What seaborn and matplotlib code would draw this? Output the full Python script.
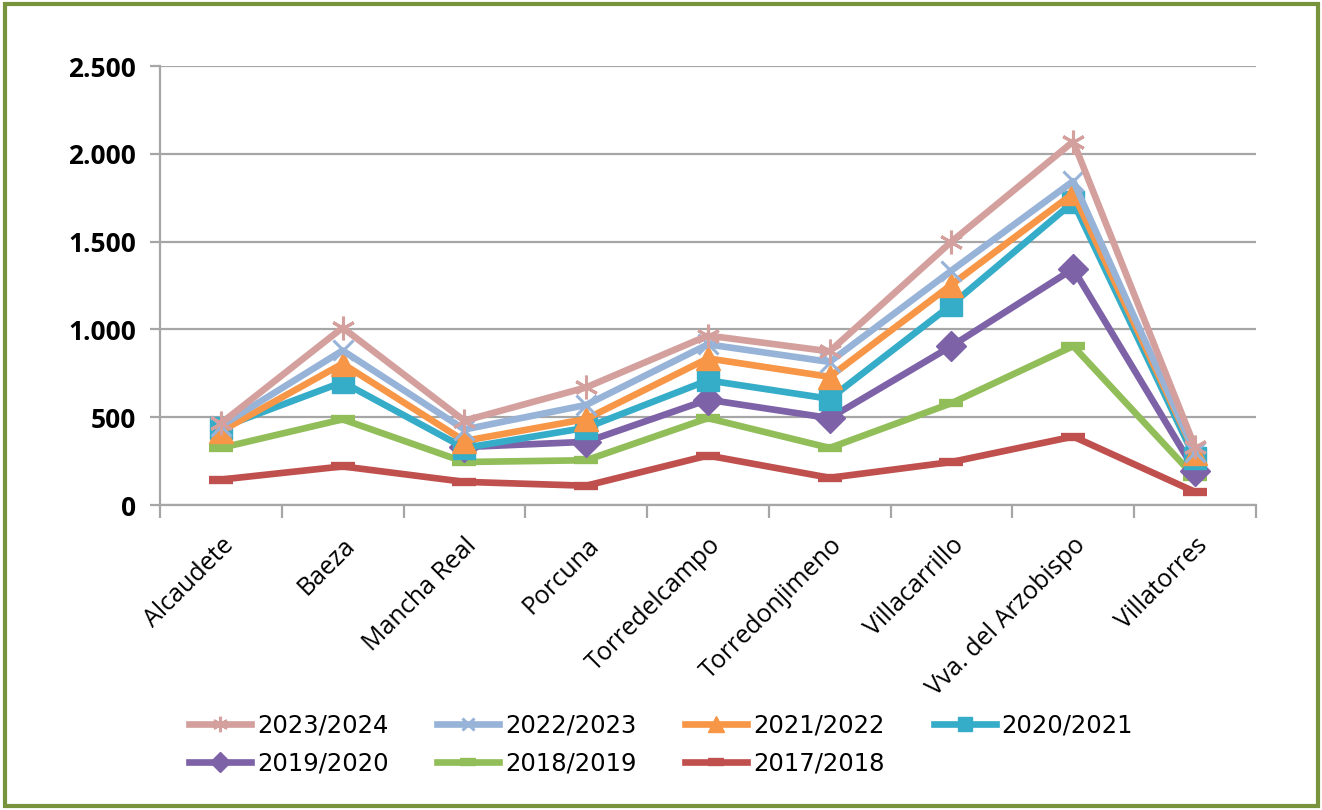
import numpy as np
import pandas as pd
import matplotlib
import matplotlib.pyplot as plt
import seaborn as sns
from matplotlib.ticker import FuncFormatter, FixedLocator
from matplotlib.patches import Rectangle

matplotlib.use('Agg')

# Data
municipios = ['Alcaudete', 'Baeza', 'Mancha Real', 'Porcuna', 'Torredelcampo',
              'Torredonjimeno', 'Villacarrillo', 'Vva. del Arzobispo', 'Villatorres']

c2023_2024 = [465, 1010, 480, 670, 965, 875, 1500, 2070, 330]
c2022_2023 = [450, 880, 430, 570, 915, 815, 1335, 1845, 300]
c2021_2022 = [420, 805, 365, 490, 835, 730, 1255, 1775, 295]
c2020_2021 = [440, 700, 325, 440, 710, 605, 1140, 1725, 265]
c2019_2020 = [np.nan, np.nan, 330, 360, 600, 495, 905, 1345, 195]
c2018_2019 = [325, 488, 245, 255, 495, 325, 580, 905, 158]
c2017_2018 = [145, 220, 132, 110, 282, 155, 245, 390, 75]

cursos = ['2023/2024', '2022/2023', '2021/2022', '2020/2021',
          '2019/2020', '2018/2019', '2017/2018']
valores = [c2023_2024, c2022_2023, c2021_2022, c2020_2021,
           c2019_2020, c2018_2019, c2017_2018]

# series styles (Excel-like)
colores = ['#D4A09E', '#98B3D8', '#F79646', '#35ACC8', '#7E62A8', '#92BE5A', '#C0504D']
marcadores = [(6, 2, 0), 'x', '^', 's', 'D', '_', '_']
tamanos = [17, 14, 17, 16, 15, 17, 17]
bordes = [2.2, 2.2, 1, 1, 1, 6, 6]

df = pd.DataFrame({'municipio': municipios})
for curso, vals in zip(cursos, valores):
    df[curso] = vals
largo = df.melt(id_vars='municipio', var_name='curso', value_name='alumnos')

fig = plt.figure(figsize=(13.22, 8.10), dpi=100)
ax = fig.add_axes([0.121, 0.3765, 0.829, 0.542])

handles = {}
# draw older first so the newest ends up on top
for i in reversed(range(len(cursos))):
    sub = largo[largo['curso'] == cursos[i]].dropna()
    sns.lineplot(data=sub, x='municipio', y='alumnos', ax=ax, color=colores[i],
                 linewidth=4.8, marker=marcadores[i], markersize=tamanos[i],
                 markeredgewidth=bordes[i], markeredgecolor=colores[i],
                 sort=False, legend=False, zorder=3 + (len(cursos) - i))
    handles[cursos[i]] = ax.lines[-1]

ax.set_xlim(-0.5, len(municipios) - 0.5)
ax.set_ylim(0, 2500)
ax.set_yticks([0, 500, 1000, 1500, 2000, 2500])
ax.yaxis.set_major_formatter(FuncFormatter(lambda v, p: f'{int(v):,}'.replace(',', '.')))
ax.grid(axis='y', color='#A6A6A6', linewidth=1.6, zorder=0)
ax.grid(axis='x', visible=False)
ax.set_axisbelow(True)

for s in ['top', 'right']:
    ax.spines[s].set_visible(False)
for s in ['left', 'bottom']:
    ax.spines[s].set_color('#A6A6A6')
    ax.spines[s].set_linewidth(1.6)

ax.tick_params(axis='y', length=7, width=1.6, color='#A6A6A6', pad=10)
for lab in ax.get_yticklabels():
    lab.set_fontfamily('Open Sans')
    lab.set_fontweight('bold')
    lab.set_fontsize(19)

ax.xaxis.set_minor_locator(FixedLocator(np.arange(-0.5, len(municipios), 1.0)))
ax.tick_params(axis='x', which='minor', length=9, width=1.6, color='#A6A6A6')
ax.tick_params(axis='x', which='major', length=0, pad=20)
ax.set_xticks(range(len(municipios)))
ax.set_xticklabels(municipios, rotation=45, ha='right', rotation_mode='anchor',
                   fontsize=18, fontfamily='Open Sans')
ax.set_xlabel('')
ax.set_ylabel('')

orden = [0, 4, 1, 5, 2, 6, 3]
fig.legend([handles[cursos[k]] for k in orden], [cursos[k] for k in orden],
           ncol=4, loc='center', bbox_to_anchor=(0.5, 0.081), frameon=False,
           prop={'family': ['Liberation Sans Narrow', 'DejaVu Sans'], 'size': 17.5},
           markerscale=0.65, handlelength=2.55, columnspacing=2.0,
           handletextpad=0.25, labelspacing=0.6)

fig.patches.append(Rectangle((0.004, 0.005), 0.993, 0.99, transform=fig.transFigure,
                             fill=False, edgecolor='#77933C', linewidth=3))

fig.savefig('out.png', dpi=100, facecolor='white')
